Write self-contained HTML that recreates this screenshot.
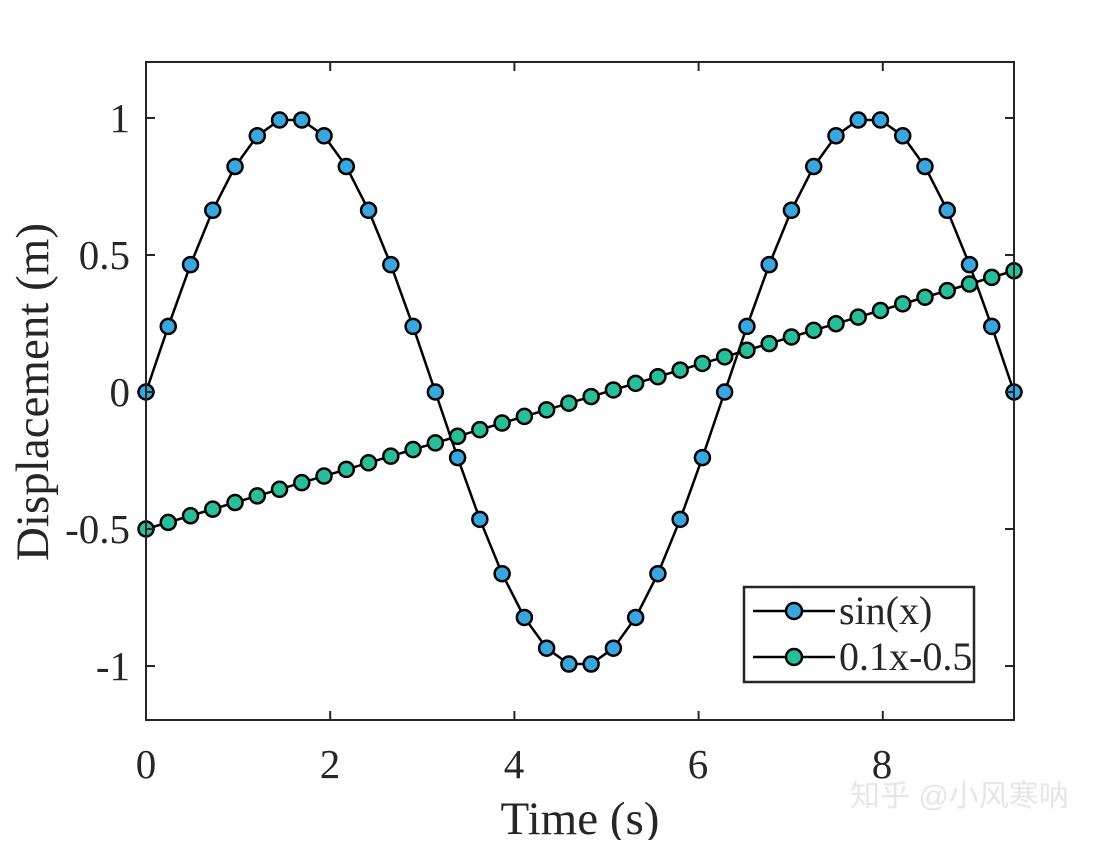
<!DOCTYPE html>
<html><head><meta charset="utf-8"><style>
body{margin:0;background:#fff;}
svg text{font-family:"Liberation Serif",serif;fill:#262626;}
</style></head><body>
<svg id="s" width="1120" height="840" xmlns="http://www.w3.org/2000/svg">
<rect x="0" y="0" width="1120" height="840" fill="#fff"/>
<g id="plot"></g>
<rect x="146" y="62" width="868" height="658" fill="none" stroke="#262626" stroke-width="2"/>
<g id="ticks" stroke="#262626" stroke-width="2"></g>
<g font-size="41">
<text x="146" y="778" text-anchor="middle">0</text>
<text x="330" y="778" text-anchor="middle">2</text>
<text x="514" y="778" text-anchor="middle">4</text>
<text x="698" y="778" text-anchor="middle">6</text>
<text x="882" y="778" text-anchor="middle">8</text>
<text x="130" y="132" text-anchor="end">1</text>
<text x="130" y="269" text-anchor="end">0.5</text>
<text x="130" y="406" text-anchor="end">0</text>
<text x="130" y="543" text-anchor="end">-0.5</text>
<text x="130" y="680" text-anchor="end">-1</text>
<text x="580" y="834" text-anchor="middle" font-size="47">Time (s)</text>
<text transform="translate(48,392) rotate(-90)" text-anchor="middle" font-size="47">Displacement (m)</text>
</g>
<rect x="744" y="587" width="230" height="95" fill="#fff" stroke="#262626" stroke-width="2.5"/>
<line x1="753" y1="611" x2="835" y2="611" stroke="#000" stroke-width="2.5"/>
<circle cx="794" cy="611" r="8" fill="#3aa6e0" stroke="#000" stroke-width="2.5"/>
<line x1="753" y1="657" x2="835" y2="657" stroke="#000" stroke-width="2.5"/>
<circle cx="794" cy="657" r="8" fill="#29be9a" stroke="#000" stroke-width="2.5"/>
<text x="839" y="624" font-size="40">sin(x)</text>
<text x="839" y="670" font-size="40">0.1x-0.5</text>
<text x="850" y="806" font-size="30" style="font-family:'Liberation Sans','Noto Sans CJK SC',sans-serif;fill:#e6e6e6">知乎 @小风寒呐</text>
</svg>
<script>
var ns="http://www.w3.org/2000/svg",g=document.getElementById("plot"),t=document.getElementById("ticks");
function X(x){return 146+x*92.1;}function Y(y){return 392-y*274;}
var n=40,a=[],b=[];
for(var i=0;i<n;i++){var x=3*Math.PI*i/(n-1);a.push([X(x),Y(Math.sin(x))]);b.push([X(x),Y(0.1*x-0.5)]);}
function line(p){var e=document.createElementNS(ns,"polyline");e.setAttribute("points",p.map(q=>q.join(",")).join(" "));e.setAttribute("fill","none");e.setAttribute("stroke","#000");e.setAttribute("stroke-width","2.5");g.appendChild(e);}
function dots(p,c){p.forEach(q=>{var e=document.createElementNS(ns,"circle");e.setAttribute("cx",q[0]);e.setAttribute("cy",q[1]);e.setAttribute("r","7.5");e.setAttribute("fill",c);e.setAttribute("stroke","#000");e.setAttribute("stroke-width","2.5");g.appendChild(e);});}
line(a);dots(a,"#3aa6e0");line(b);dots(b,"#29be9a");
function L(x1,y1,x2,y2){var e=document.createElementNS(ns,"line");e.setAttribute("x1",x1);e.setAttribute("y1",y1);e.setAttribute("x2",x2);e.setAttribute("y2",y2);t.appendChild(e);}
[0,2,4,6,8].forEach(v=>{L(X(v),720,X(v),711);L(X(v),62,X(v),71);});
[1,0.5,0,-0.5,-1].forEach(v=>{L(146,Y(v),155,Y(v));L(1014,Y(v),1005,Y(v));});
</script>
</body></html>
